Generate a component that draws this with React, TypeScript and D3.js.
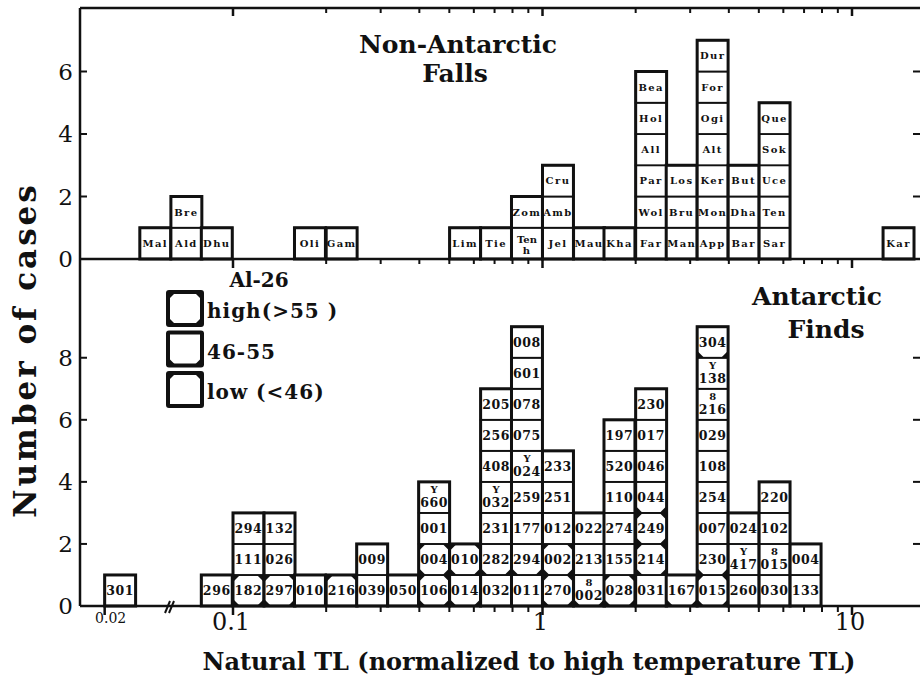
import React, { useEffect, useRef } from "react";
import * as d3 from "d3";

// lower edge of each TL bin (bins are 0.1 decade wide)
const fallBins = [0.050, 0.063, 0.079, 0.158, 0.200, 0.501, 0.631, 0.794, 1.00, 1.26, 1.58, 2.00, 2.51, 3.16, 3.98, 5.01, 12.6];
const fallNames = [
  ["Mal"], ["Ald", "Bre"], ["Dhu"], ["Oli"], ["Gam"], ["Lim"], ["Tie"], ["Ten.h", "Zom"],
  ["Jel", "Amb", "Cru"], ["Mau"], ["Kha"], ["Far", "Wol", "Par", "All", "Hol", "Bea"],
  ["Man", "Bru", "Los"], ["App", "Mon", "Ker", "Alt", "Ogi", "For", "Dur"],
  ["Bar", "Dha", "But"], ["Sar", "Ten", "Uce", "Sok", "Que"], ["Kar"],
];

// "Y.660" = letter above number, "/h" "/m" "/l" = Al-26 class
const findBins = [0.020, 0.079, 0.100, 0.126, 0.158, 0.200, 0.251, 0.316, 0.398, 0.501, 0.631, 0.794, 1.00, 1.26, 1.58, 2.00, 2.51, 3.16, 3.98, 5.01, 6.31];
const findNames = [
  ["301"], ["296"], ["182/h", "111", "294"], ["297/h", "026", "132"], ["010"], ["216/l"],
  ["039", "009"], ["050"], ["106/h", "004/h", "001", "Y.660"], ["014/m", "010/h"],
  ["032", "282/m", "231", "Y.032", "408", "256", "205"],
  ["011", "294/m", "177", "259", "Y.024", "075", "078", "601", "008"],
  ["270/h", "002/h", "012", "251", "233"], ["8.002/m", "213", "022"],
  ["028/h", "155", "274", "110", "520", "197"],
  ["031", "214/h", "249/h", "044/m", "046", "017", "230"], ["167/m"],
  ["015/h", "230/m", "007", "254", "108", "029", "8.216", "Y.138", "304/m"],
  ["260", "Y.417", "024"], ["030", "8.015", "102", "220"], ["133", "004"],
];

const topTicks = [0, 2, 4, 6];
const botTicks = [0, 2, 4, 6, 8];
const xLabels = [
  { v: 0.02, t: "0.02" },
  { v: 0.1, t: "0.1" },
  { v: 1, t: "1" },
  { v: 10, t: "10" },
];
const legendItems = [
  { m: "h", t: "high(>55 )" },
  { m: "m", t: "46-55" },
  { m: "l", t: "low  (<46)" },
];

const serif = "'DejaVu Serif', serif";

export default function App() {
  const ref = useRef<SVGSVGElement>(null);

  useEffect(() => {
    const svg = d3.select(ref.current);
    svg.selectAll("*").remove();

    const left = 80, right = 920, top = 8, mid = 259, bottom = 606;
    const x = d3.scaleLog().domain([0.1, 10]).range([233, 852]);
    const breakShift = 88;
    const xp = (v: number) => (v < 0.04 ? x(v) + breakShift : x(v));
    const step = Math.pow(10, 0.1);
    const yTop = d3.scaleLinear().domain([0, 8]).range([mid, 9]);
    const yBot = d3.scaleLinear().domain([0, 11.15]).range([bottom, 260]);

    const corners = (g: any, x0: number, y0: number, x1: number, y1: number, m: string, c: number) => {
      const pts: number[][][] = [];
      if (m === "h" || m === "l") {
        pts.push([[x0, y0], [x0 + c, y0], [x0, y0 + c]]);
        pts.push([[x1, y0], [x1 - c, y0], [x1, y0 + c]]);
      }
      if (m === "h" || m === "m") {
        pts.push([[x0, y1], [x0 + c, y1], [x0, y1 - c]]);
        pts.push([[x1, y1], [x1 - c, y1], [x1, y1 - c]]);
      }
      pts.forEach((p) =>
        g.append("path").attr("d", "M" + p.map((q) => q.join(",")).join("L") + "Z").attr("fill", "#111")
      );
    };

    const drawPanel = (bins: number[], cols: string[][], y: any, small: boolean) => {
      const g = svg.append("g");
      bins.forEach((b, i) => {
        const x0 = xp(b), x1 = xp(b * step);
        const cx = (x0 + x1) / 2;
        const cells = cols[i];
        cells.forEach((raw, j) => {
          const [label, marker] = raw.split("/");
          const y0 = y(j + 1), y1 = y(j);
          const cy = (y0 + y1) / 2;
          g.append("rect")
            .attr("x", x0).attr("y", y0)
            .attr("width", x1 - x0).attr("height", y1 - y0)
            .attr("fill", "white").attr("stroke", "#111").attr("stroke-width", 1.8);
          if (marker) corners(g, x0, y0, x1, y1, marker, 7);
          const parts = label.split(".");
          const fs = small ? 10 : 12.5;
          const ls = small ? 1.4 : 0.6;
          if (parts.length === 1) {
            g.append("text").attr("x", cx).attr("y", cy).attr("dy", "0.36em")
              .attr("text-anchor", "middle").attr("font-family", serif).attr("font-weight", "bold")
              .attr("font-size", fs).attr("letter-spacing", ls).attr("fill", "#111").text(parts[0]);
          } else {
            g.append("text").attr("x", cx).attr("y", small ? cy - 4 : cy - 8).attr("dy", "0.36em")
              .attr("text-anchor", "middle").attr("font-family", serif).attr("font-weight", "bold")
              .attr("font-size", small ? fs : 10).attr("fill", "#111").text(parts[0]);
            g.append("text").attr("x", cx).attr("y", small ? cy + 7 : cy + 5).attr("dy", "0.36em")
              .attr("text-anchor", "middle").attr("font-family", serif).attr("font-weight", "bold")
              .attr("font-size", fs).attr("letter-spacing", ls).attr("fill", "#111").text(parts[1]);
          }
        });
        g.append("rect")
          .attr("x", x0).attr("y", y(cells.length))
          .attr("width", x1 - x0).attr("height", y(0) - y(cells.length))
          .attr("fill", "none").attr("stroke", "#111").attr("stroke-width", 3);
      });
    };

    drawPanel(fallBins, fallNames, yTop, true);
    drawPanel(findBins, findNames, yBot, false);

    // frame lines
    const line = (x1: number, y1: number, x2: number, y2: number, w: number) =>
      svg.append("line").attr("x1", x1).attr("y1", y1).attr("x2", x2).attr("y2", y2)
        .attr("stroke", "#111").attr("stroke-width", w);
    line(left, top, right, top, 2.5);
    line(left, mid, right, mid, 2.5);
    line(left, bottom, right, bottom, 2.5);
    line(left, top, left, bottom, 2.5);

    // log ticks
    const logVals: { v: number; major: boolean }[] = [];
    [0.1, 1].forEach((d) => {
      for (let k = 1; k <= 9; k++) logVals.push({ v: d * k, major: k === 1 });
    });
    logVals.push({ v: 10, major: true });
    logVals.forEach((t) => {
      const xx = x(t.v);
      line(xx, top, xx, top + (t.major ? 8 : 5), t.major ? 2.5 : 2);
      line(xx, mid, xx, mid + (t.major ? 9 : 5), t.major ? 2.5 : 2);
      line(xx, bottom, xx, bottom + (t.major ? 9 : 6), t.major ? 2.5 : 2);
    });
    line(xp(0.02), bottom, xp(0.02), bottom + 9, 2.5);
    // axis break
    line(165, 613, 170, 601, 2);
    line(169, 613, 174, 601, 2);

    // y ticks
    topTicks.forEach((v) => {
      const yy = yTop(v);
      line(left, yy, left + 7, yy, 2);
      line(right - 7, yy, right, yy, 2);
      svg.append("text").attr("x", 73).attr("y", yy).attr("dy", "0.36em").attr("text-anchor", "end")
        .attr("font-family", serif).attr("font-size", 23).attr("fill", "#111").text(v);
    });
    botTicks.forEach((v) => {
      const yy = yBot(v);
      line(left, yy, left + 7, yy, 2);
      line(right - 7, yy, right, yy, 2);
      svg.append("text").attr("x", 73).attr("y", yy).attr("dy", "0.36em").attr("text-anchor", "end")
        .attr("font-family", serif).attr("font-size", 23).attr("fill", "#111").text(v);
    });

    // x tick labels
    xLabels.forEach((d) => {
      const small = d.v < 0.05;
      svg.append("text").attr("x", xp(d.v) + (small ? 6 : -2)).attr("y", small ? 623 : 630)
        .attr("text-anchor", "middle").attr("font-family", serif)
        .attr("font-size", small ? 14 : 24).attr("fill", "#111").text(d.t);
    });

    // axis titles
    svg.append("text").attr("x", 529).attr("y", 670).attr("text-anchor", "middle")
      .attr("font-family", serif).attr("font-weight", "bold").attr("font-size", 24).attr("fill", "#111")
      .text("Natural TL (normalized to high temperature TL)");
    svg.append("text").attr("transform", "translate(36,350) rotate(-90)").attr("text-anchor", "middle")
      .attr("font-family", serif).attr("font-weight", "bold").attr("font-size", 31)
      .attr("letter-spacing", 3).attr("fill", "#111")
      .text("Number of cases");

    // panel titles
    const title = (t: string, cx: number, by: number) =>
      svg.append("text").attr("x", cx).attr("y", by).attr("text-anchor", "middle")
        .attr("font-family", serif).attr("font-weight", "bold").attr("font-size", 25).attr("fill", "#111").text(t);
    title("Non-Antarctic", 458, 53);
    title("Falls", 455, 82);
    title("Antarctic", 817, 305);
    title("Finds", 826, 338);

    // legend
    svg.append("text").attr("x", 259).attr("y", 287).attr("text-anchor", "middle")
      .attr("font-family", serif).attr("font-weight", "bold").attr("font-size", 20).attr("fill", "#111").text("Al-26");
    legendItems.forEach((d, i) => {
      const y0 = 292 + i * 40.5;
      const lg = svg.append("g");
      lg.append("rect").attr("x", 168).attr("y", y0).attr("width", 34).attr("height", 33)
        .attr("fill", "white").attr("stroke", "#111").attr("stroke-width", 4).attr("rx", 1);
      corners(lg, 168, y0, 202, y0 + 33, d.m, 8);
      svg.append("text").attr("x", 207).attr("y", y0 + 26).attr("font-family", serif)
        .attr("font-weight", "bold").attr("font-size", 20).attr("letter-spacing", 1).attr("fill", "#111").text(d.t);
    });
  }, []);

  return (
    <svg ref={ref} width={920} height={687}
      style={{ position: "absolute", left: 0, top: 0, background: "white" }} />
  );
}
